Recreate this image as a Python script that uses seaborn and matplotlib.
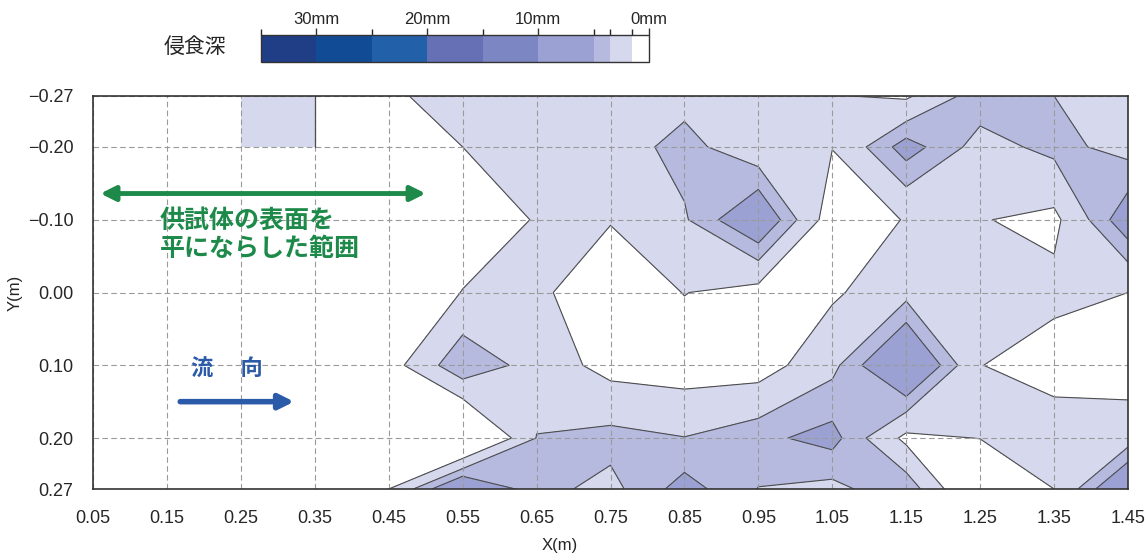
import numpy as np
import matplotlib.pyplot as plt
import seaborn as sns
from matplotlib.colors import ListedColormap, BoundaryNorm
from matplotlib.cm import ScalarMappable

# grid of measuring points
x_pos = [0.05, 0.15, 0.25, 0.35, 0.45, 0.55, 0.65, 0.75, 0.85, 0.95, 1.05, 1.15, 1.25, 1.35, 1.45]
y_pos = [-0.27, -0.20, -0.10, 0.00, 0.10, 0.20, 0.27]

# erosion depth (mm), one list per Y row
row_m027 = [0, 0, 0, 0, 1.0, 2.8, 2.6, 2.5, 2.9, 2.5, 1.6, 1.2, 4.5, 3.5, 2.5]
row_m020 = [0, 0, 0, 0, 0, 1.5, 2.5, 2.6, 4.1, 2.2, 1.55, 5.8, 2.8, 4.0, 2.9]
row_m010 = [0, 0, 0, 0, 0, 0.5, 1.6, 1.6, 3.3, 7.0, 0.3, 1.6, 1.6, 1.0, 6.3]
row_000 = [0, 0, 0, 0, 0, 1.55, 1.85, 0.3, 1.55, 0.75, 1.2, 2.9, 2.6, 2.06, 1.5]
row_p010 = [0, 0, 0, 0, 0.6, 4.9, 2.67, 0.8, 0.5, 0.53, 3.0, 8.0, 1.55, 0.5, 0.5]
row_p020 = [0, 0, 0, 0, 0, -2.5, 3.55, 4.07, 3.55, 4.6, 5.6, 1.0, 1.55, 2.8, 2.6]
row_p027 = [0, 0, 0, 0, 1.5, 7.5, 4.0, 3.0, 5.7, 3.45, 3.0, 4.7, -1.5, 1.5, 7.7]

# colour bands of the legend
band_edges = [0, 1.5, 3.5, 5, 10, 15, 20, 25, 30, 35]
band_colors = ['#ffffff', '#d6d8ed', '#b6badf', '#9ba2d3', '#7c86c3',
               '#6670b5', '#2260a9', '#124b95', '#1f3e86']
legend_ticks = [30, 20, 10, 0]
legend_labels = ['30mm', '20mm', '10mm', '0mm']

# single flattened cell drawn as a block at the top left
flat_cell_x = [0.25, 0.35]
flat_cell_y = [-0.27, -0.20]

sns.set_theme(style='white')
plt.rcParams['font.family'] = ['Liberation Sans', 'Noto Sans CJK JP', 'DejaVu Sans']
plt.rcParams['axes.unicode_minus'] = True

fig = plt.figure(figsize=(11.47, 5.55), dpi=100)
ax = fig.add_axes([93 / 1147, 1 - 489 / 555, 1035 / 1147, 393 / 555])

Z = np.array([row_m027, row_m020, row_m010, row_000, row_p010, row_p020, row_p027])
X, Y = np.meshgrid(x_pos, y_pos)

fill_levels = [-10] + band_edges[1:]
ax.contourf(X, Y, Z, levels=fill_levels, colors=band_colors)
ax.contour(X, Y, Z, levels=band_edges[1:5], colors='#4d4d4d', linewidths=0.8)

# flattened block
ax.fill_between(flat_cell_x, flat_cell_y[0], flat_cell_y[1], color=band_colors[1], lw=0)
ax.plot([flat_cell_x[1], flat_cell_x[1]], flat_cell_y, color='#4d4d4d', lw=0.9, zorder=3)

ax.set_xlim(x_pos[0], x_pos[-1])
ax.set_ylim(y_pos[-1], y_pos[0])
ax.set_xticks(x_pos)
ax.set_xticklabels([f'{v:.2f}' for v in x_pos], fontsize=13)
ax.set_yticks(y_pos)
ax.set_yticklabels([f'{v:.2f}'.replace('-', '\u2212') for v in y_pos], fontsize=13)
ax.tick_params(axis='x', length=0, pad=15)
ax.tick_params(axis='y', length=0, pad=14)

ax.set_axisbelow(False)
ax.grid(True, color='#9a9a9a', linestyle=(0, (5, 3)), linewidth=0.8)
for sp in ax.spines.values():
    sp.set_color('#333333')
    sp.set_linewidth(1.2)
    sp.set_zorder(5)

ax.set_xlabel('X(m)', fontsize=12)
ax.xaxis.set_label_coords(0.451, -0.125)
ax.set_ylabel('Y(m)', fontsize=12)
ax.yaxis.set_label_coords(-0.068, 0.5)

# notes on the map
green = '#1d8a4a'
blue = '#2b5aa8'
ax.annotate('', xy=(0.50, -0.136), xytext=(0.06, -0.136),
            arrowprops=dict(arrowstyle='<|-|>', color=green, lw=3.5,
                            mutation_scale=22, shrinkA=0, shrinkB=0))
ax.text(0.14, -0.079, '供試体の表面を\n平にならした範囲', color=green, fontsize=18,
        fontweight='bold', va='center', ha='left', linespacing=1.2,
        family=['Noto Sans CJK JP', 'DejaVu Sans'])
ax.text(0.182, 0.105, '流\u3000 向', color=blue, fontsize=16, fontweight='bold',
        va='center', ha='left', family=['Noto Sans CJK JP', 'DejaVu Sans'])
ax.annotate('', xy=(0.322, 0.15), xytext=(0.168, 0.15),
            arrowprops=dict(arrowstyle='-|>', color=blue, lw=4,
                            mutation_scale=22, shrinkA=0, shrinkB=0))

# legend bar at the top
cax = fig.add_axes([261 / 1147, 1 - 62 / 555, 388 / 1147, 27 / 555])
cmap = ListedColormap(band_colors)
norm = BoundaryNorm(band_edges, cmap.N)
cb = fig.colorbar(ScalarMappable(norm=norm, cmap=cmap), cax=cax, orientation='horizontal',
                  spacing='proportional', drawedges=True, ticks=legend_ticks)
cb.outline.set_edgecolor('#333333')
cb.outline.set_linewidth(1.0)
cb.dividers.set_color('#777777')
cb.dividers.set_linewidth(0.8)
cax.invert_xaxis()
cax.xaxis.set_ticks_position('top')
cax.set_xticklabels(legend_labels, fontsize=12)
cax.tick_params(axis='x', length=5, width=1, color='#333333', pad=1)
fig.text(195 / 1147, 1 - 47 / 555, '侵食深', fontsize=15, ha='center', va='center',
         family=['Noto Sans CJK JP', 'DejaVu Sans'])

fig.savefig('out.png', dpi=100)
